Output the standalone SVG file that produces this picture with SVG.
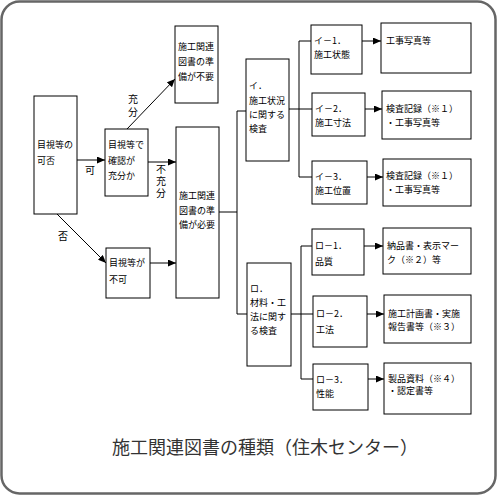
<svg xmlns="http://www.w3.org/2000/svg" width="500" height="500" viewBox="0 0 500 500">
<defs>
<marker id="ah" markerUnits="userSpaceOnUse" markerWidth="9" markerHeight="7" refX="8" refY="3.5" orient="auto">
<path d="M0,0 L8,3.5 L0,7 z" fill="#000"/>
</marker>
<style>
.b{fill:#fff;stroke:#000;stroke-width:1}
.t{font-family:"Noto Sans CJK JP","Noto Sans CJK SC",sans-serif;font-size:9px;fill:#000}
.l{font-family:"Noto Sans CJK JP","Noto Sans CJK SC",sans-serif;font-size:10px;fill:#000;text-anchor:middle}
.v{font-family:"Noto Sans CJK JP","Noto Sans CJK SC",sans-serif;font-size:10px;fill:#000;writing-mode:vertical-rl}
.c{fill:none;stroke:#000;stroke-width:1}
.a{marker-end:url(#ah)}
</style>
</defs>
<rect x="1.5" y="1.5" width="494" height="492" rx="18" fill="#fff" stroke="#666" stroke-width="2.5"/>

<g id="connectors">
<path class="c a" d="M77,160 H105"/>
<path class="c a" d="M127,129 L175,79"/>
<path class="c a" d="M148,162 H176"/>
<path class="c a" d="M57,214 L106,263"/>
<path class="c a" d="M150,263 H176"/>
<path class="c" d="M219,212 H237 M237,111 V314 M237,111 H246 M237,314 H247"/>
<path class="c" d="M289,109 H312 M299,41 V177 M299,41 H311 M299,177 H312"/>
<path class="c a" d="M362,41 H381"/>
<path class="c a" d="M365,109 H382"/>
<path class="c a" d="M367,177 H383"/>
<path class="c" d="M291,314 H313 M301,246 V379 M301,246 H312 M301,379 H313"/>
<path class="c a" d="M364,246 H383"/>
<path class="c a" d="M367,314 H384"/>
<path class="c a" d="M368,379 H384"/>
<text class="l" x="90" y="174">可</text>
<text class="v" x="133" y="94" letter-spacing="3">充分</text>
<text class="v" x="161" y="164" letter-spacing="2">不充分</text>
<text class="l" x="63" y="240">否</text>
</g>

<g id="nodeA"><rect class="b" x="34" y="96" width="43" height="118"/>
<text class="t" x="37" y="148">目視等の</text><text class="t" x="37" y="164">可否</text></g>
<g id="nodeB"><rect class="b" x="105" y="129" width="43" height="67"/>
<text class="t" x="108" y="148">目視等で</text><text class="t" x="108" y="164">確認が</text><text class="t" x="108" y="179">充分か</text></g>
<g id="nodeC"><rect class="b" x="175" y="26" width="43" height="77"/>
<text class="t" x="178" y="50">施工関連</text><text class="t" x="178" y="65">図書の準</text><text class="t" x="178" y="80">備が不要</text></g>
<g id="nodeD"><rect class="b" x="176" y="127" width="43" height="171"/>
<text class="t" x="179" y="199">施工関連</text><text class="t" x="179" y="214">図書の準</text><text class="t" x="179" y="228">備が必要</text></g>
<g id="nodeE"><rect class="b" x="106" y="248" width="44" height="50"/>
<text class="t" x="109" y="266">目視等が</text><text class="t" x="109" y="283">不可</text></g>
<g id="nodeF"><rect class="b" x="246" y="59" width="43" height="102"/>
<text class="t" x="249" y="89">イ．</text><text class="t" x="249" y="104">施工状況</text><text class="t" x="249" y="118">に関する</text><text class="t" x="249" y="132">検査</text></g>
<g id="nodeG"><rect class="b" x="247" y="263" width="44" height="103"/>
<text class="t" x="250" y="292">ロ．</text><text class="t" x="250" y="306">材料・工</text><text class="t" x="250" y="320">法に関す</text><text class="t" x="250" y="334">る検査</text></g>

<g id="nodeI1"><rect class="b" x="311" y="25" width="51" height="49"/>
<text class="t" x="314" y="44">イ－1．</text><text class="t" x="314" y="58">施工状態</text></g>
<g id="nodeI2"><rect class="b" x="312" y="93" width="53" height="43"/>
<text class="t" x="315" y="112">イ－2．</text><text class="t" x="315" y="126">施工寸法</text></g>
<g id="nodeI3"><rect class="b" x="312" y="161" width="55" height="43"/>
<text class="t" x="315" y="180">イ－3．</text><text class="t" x="315" y="194">施工位置</text></g>

<g id="nodeT1"><rect class="b" x="381" y="23" width="90" height="50"/>
<text class="t" x="386" y="44">工事写真等</text></g>
<g id="nodeT2"><rect class="b" x="382" y="91" width="89" height="48"/>
<text class="t" x="386" y="112">検査記録（※１）</text><text class="t" x="386" y="126">・工事写真等</text></g>
<g id="nodeT3"><rect class="b" x="383" y="159" width="88" height="47"/>
<text class="t" x="386" y="179">検査記録（※１）</text><text class="t" x="386" y="193">・工事写真等</text></g>

<g id="nodeR1"><rect class="b" x="312" y="229" width="52" height="46"/>
<text class="t" x="315" y="249">ロ－1．</text><text class="t" x="315" y="265">品質</text></g>
<g id="nodeR2"><rect class="b" x="313" y="296" width="54" height="51"/>
<text class="t" x="316" y="317">ロ－2．</text><text class="t" x="316" y="333">工法</text></g>
<g id="nodeR3"><rect class="b" x="313" y="364" width="55" height="46"/>
<text class="t" x="316" y="383">ロ－3．</text><text class="t" x="316" y="397">性能</text></g>

<g id="nodeT4"><rect class="b" x="383" y="228" width="88" height="46"/>
<text class="t" x="387" y="249">納品書・表示マー</text><text class="t" x="387" y="263">ク（※２）等</text></g>
<g id="nodeT5"><rect class="b" x="384" y="295" width="87" height="48"/>
<text class="t" x="388" y="317">施工計画書・実施</text><text class="t" x="388" y="330">報告書等（※３）</text></g>
<g id="nodeT6"><rect class="b" x="384" y="363" width="87" height="51"/>
<text class="t" x="388" y="382">製品資料（※４）</text><text class="t" x="388" y="394">・認定書等</text></g>

<text x="265" y="454" text-anchor="middle" font-family="'Noto Sans CJK JP','Noto Sans CJK SC',sans-serif" font-size="18" fill="#333">施工関連図書の種類（住木センター）</text>
</svg>
